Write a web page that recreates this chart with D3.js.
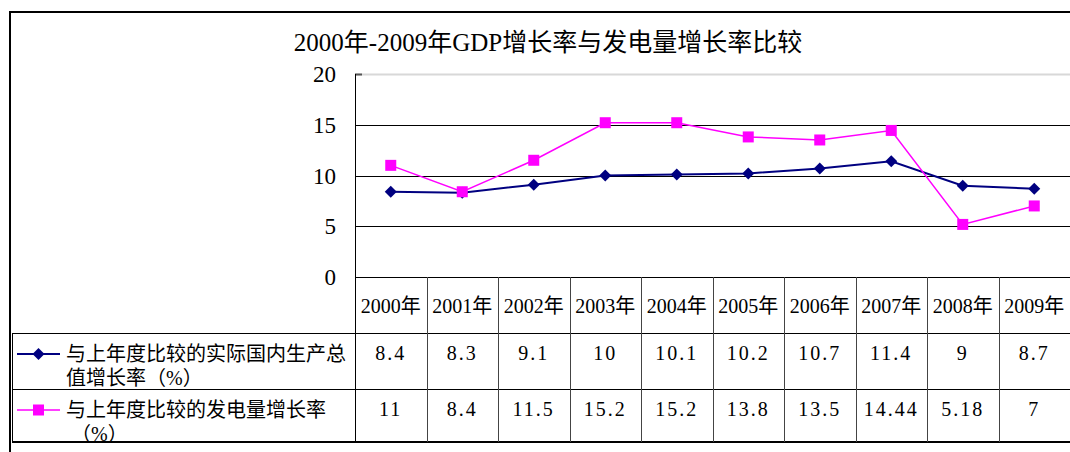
<!DOCTYPE html>
<html lang="zh">
<head>
<meta charset="UTF-8">
<title>GDP增长率与发电量增长率比较</title>
<script src="https://d3js.org/d3.v7.min.js"></script>
<style>
  body { margin: 0; background: #fff; }
  svg text { font-family: "Liberation Serif", "Noto Sans CJK SC", serif; fill: #000; }
</style>
</head>
<body>
<div id="chart"></div>
<script>
// 数据
const years = ["2000年", "2001年", "2002年", "2003年", "2004年", "2005年", "2006年", "2007年", "2008年", "2009年"];
const gdpGrowth = [8.4, 8.3, 9.1, 10, 10.1, 10.2, 10.7, 11.4, 9, 8.7];
const powerGrowth = [11, 8.4, 11.5, 15.2, 15.2, 13.8, 13.5, 14.44, 5.18, 7];
const yTicks = [0, 5, 10, 15, 20];
const seriesNames = [
  ["与上年度比较的实际国内生产总", "值增长率（%）"],
  ["与上年度比较的发电量增长率", " （%）"]
];

const width = 1070, height = 452;
const svg = d3.select("#chart").append("svg")
  .attr("width", width)
  .attr("height", height);

// 外框
svg.append("path")
  .attr("d", "M10,452 L10,12 L1072,12")
  .attr("fill", "none")
  .attr("stroke", "#000")
  .attr("stroke-width", 2);

// 标题
svg.append("text")
  .attr("x", 548)
  .attr("y", 51)
  .attr("text-anchor", "middle")
  .style("font-size", "25px")
  .text("2000年-2009年GDP增长率与发电量增长率比较");

const x = d3.scaleBand().domain(years).range([355, 1070]);
const y = d3.scaleLinear().domain([0, 20]).range([277, 74]);

// 网格线
svg.append("g")
  .selectAll("line")
  .data(yTicks)
  .join("line")
  .attr("x1", 355)
  .attr("x2", 1072)
  .attr("y1", d => Math.round(y(d)) + 0.5)
  .attr("y2", d => Math.round(y(d)) + 0.5)
  .attr("stroke", d => d === 20 ? "#d8d8d8" : "#000")
  .attr("stroke-width", d => d === 20 ? 2 : 1);

// 20处的小刻度
svg.append("line")
  .attr("x1", 355).attr("x2", 362)
  .attr("y1", Math.round(y(20)) + 0.5).attr("y2", Math.round(y(20)) + 0.5)
  .attr("stroke", "#555").attr("stroke-width", 2);

// Y轴
svg.append("line")
  .attr("x1", 355.5).attr("x2", 355.5)
  .attr("y1", y(20)).attr("y2", 442)
  .attr("stroke", "#000");

svg.append("g")
  .selectAll("text")
  .data(yTicks)
  .join("text")
  .attr("x", 336)
  .attr("y", d => y(d) + 8)
  .attr("text-anchor", "end")
  .style("font-size", "23px")
  .text(d => d);

// 折线
const series = [
  { values: gdpGrowth, color: "#000080", width: 2, shape: "diamond" },
  { values: powerGrowth, color: "#ff00ff", width: 1.5, shape: "square" }
];

const line = d3.line()
  .x((d, i) => x(years[i]) + x.bandwidth() / 2)
  .y(d => y(d));

series.forEach(s => {
  svg.append("path")
    .datum(s.values)
    .attr("fill", "none")
    .attr("stroke", s.color)
    .attr("stroke-width", s.width)
    .attr("d", line);
});

function marker(g, shape, color, cx, cy) {
  if (shape === "diamond") {
    g.append("path")
      .attr("d", `M${cx},${cy - 6}L${cx + 6},${cy}L${cx},${cy + 6}L${cx - 6},${cy}Z`)
      .attr("fill", color);
  } else {
    g.append("rect")
      .attr("x", cx - 5.5).attr("y", cy - 5.5)
      .attr("width", 11).attr("height", 11)
      .attr("fill", color);
  }
}

series.forEach(s => {
  const g = svg.append("g");
  s.values.forEach((v, i) => marker(g, s.shape, s.color, x(years[i]) + x.bandwidth() / 2, y(v)));
});

// 数据表
const rowTop = [277, 333, 389, 442];
const table = svg.append("g");

// 横线
table.append("line")
  .attr("x1", 12).attr("x2", 1072)
  .attr("y1", rowTop[1] + 0.5).attr("y2", rowTop[1] + 0.5)
  .attr("stroke", "#000");
table.append("line")
  .attr("x1", 12).attr("x2", 1072)
  .attr("y1", rowTop[2] + 0.5).attr("y2", rowTop[2] + 0.5)
  .attr("stroke", "#000");
table.append("line")
  .attr("x1", 12).attr("x2", 1072)
  .attr("y1", rowTop[3]).attr("y2", rowTop[3])
  .attr("stroke", "#000").attr("stroke-width", 2);
table.append("line")
  .attr("x1", 12.5).attr("x2", 12.5)
  .attr("y1", rowTop[1]).attr("y2", rowTop[3])
  .attr("stroke", "#000");

// 竖线
table.selectAll(".col")
  .data(years.slice(1))
  .join("line")
  .attr("x1", d => Math.round(x(d)) + 0.5)
  .attr("x2", d => Math.round(x(d)) + 0.5)
  .attr("y1", rowTop[0]).attr("y2", rowTop[3])
  .attr("stroke", "#444");

// 年份
table.selectAll(".yr")
  .data(years)
  .join("text")
  .attr("x", d => x(d) + x.bandwidth() / 2)
  .attr("y", 313)
  .attr("text-anchor", "middle")
  .style("font-size", "20px")
  .text(d => d);

// 数值
series.forEach((s, r) => {
  table.append("g")
    .selectAll("text")
    .data(s.values)
    .join("text")
    .attr("x", (d, i) => x(years[i]) + x.bandwidth() / 2)
    .attr("y", rowTop[r + 1] + 27)
    .attr("text-anchor", "middle")
    .style("font-size", "20px")
    .style("letter-spacing", "2px")
    .text(d => d);
});

// 图例
series.forEach((s, r) => {
  const cy = rowTop[r + 1] + 21;
  const g = table.append("g");
  g.append("line")
    .attr("x1", 17).attr("x2", 60)
    .attr("y1", cy).attr("y2", cy)
    .attr("stroke", s.color).attr("stroke-width", s.width);
  marker(g, s.shape, s.color, 38.5, cy);
  seriesNames[r].forEach((t, k) => {
    g.append("text")
      .attr("x", 66)
      .attr("y", cy + 7 + k * 24)
      .style("font-size", "20px")
      .style("white-space", "pre")
      .text(t);
  });
});
</script>
</body>
</html>
